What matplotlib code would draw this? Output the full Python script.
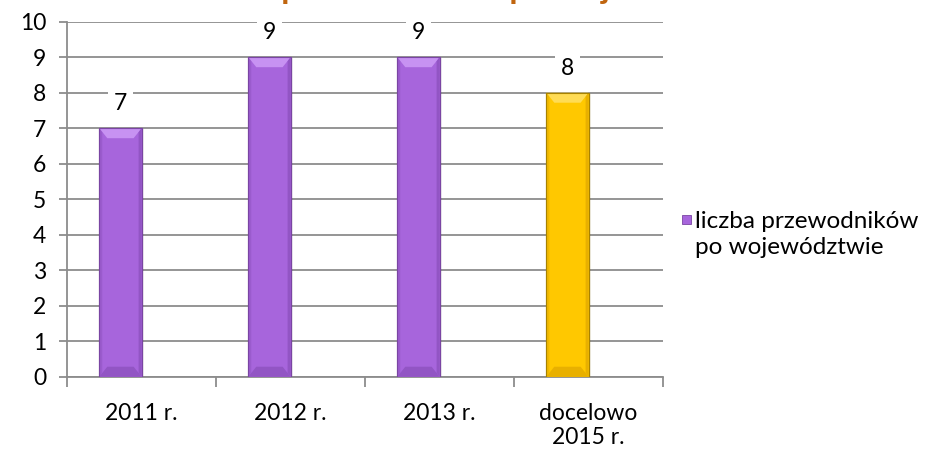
import matplotlib
matplotlib.use('Agg')
import matplotlib.pyplot as plt
from matplotlib.patches import Polygon, Rectangle
import numpy as np

categories = ['2011 r.', '2012 r.', '2013 r.', 'docelowo\n2015 r.']
values = [7, 9, 9, 8]
face_colors = ['#A765DC', '#A765DC', '#A765DC', '#FFC800']
light_colors = ['#C792F2', '#C792F2', '#C792F2', '#FFDC55']
dark_colors = ['#9255C4', '#9255C4', '#9255C4', '#E8B000']
edge_colors = ['#7A45A3', '#7A45A3', '#7A45A3', '#A88200']
series_name = 'liczba przewodników\npo województwie'
title = 'Liczba przewodników po województwie'

plt.rcParams['font.family'] = ['Lato', 'DejaVu Sans']
grid_gray = '#8C8C8C'
fs = 16.5

fig = plt.figure(figsize=(9.25, 4.53), dpi=100)
ax = fig.add_axes([0.0724, 0.1684, 0.6443, 0.7837])

n = len(values)
x = np.arange(n)
width = 0.284
offset = -0.141
ax.set_xlim(-0.5, n - 0.5)
ax.set_ylim(0, 10)

# pixel -> data scale, used for the bevel edges
ax_w = 0.6443 * 925
ax_h = 0.7837 * 453
px_x = n / ax_w
px_y = 10 / ax_h

for i, v in enumerate(values):
    x0 = x[i] + offset - width / 2
    # soft shadow
    for k, a in [(4, 0.05), (3, 0.07), (2, 0.09)]:
        ax.add_patch(Rectangle((x0 + k * px_x * 0.5, -k * px_y * 0.3), width, v,
                               facecolor='black', alpha=a, edgecolor='none', zorder=2))
ax.bar(x + offset, values, width, color=face_colors, edgecolor=edge_colors,
       linewidth=0.8, zorder=3)

for i, v in enumerate(values):
    x0 = x[i] + offset - width / 2
    x1 = x0 + width
    bx = 8 * px_x
    by = 10 * px_y
    sx = 3 * px_x
    top = Polygon([(x0, v), (x1, v), (x1 - bx, v - by), (x0 + bx, v - by)],
                  closed=True, facecolor=light_colors[i], edgecolor='none', zorder=4)
    bottom = Polygon([(x0, 0), (x1, 0), (x1 - bx, by), (x0 + bx, by)],
                     closed=True, facecolor=dark_colors[i], edgecolor='none', zorder=4)
    right = Polygon([(x1, 0), (x1 - sx, by * 0.4), (x1 - sx, v - by * 0.4), (x1, v)],
                    closed=True, facecolor=dark_colors[i], edgecolor='none', zorder=4)
    left = Polygon([(x0, 0), (x0 + sx, by * 0.4), (x0 + sx, v - by * 0.4), (x0, v)],
                   closed=True, facecolor=dark_colors[i], edgecolor='none', zorder=4, alpha=0.6)
    for p in (top, bottom, right, left):
        ax.add_patch(p)
    ax.add_patch(Rectangle((x0, 0), width, v, facecolor='none',
                           edgecolor=edge_colors[i], linewidth=0.8, zorder=5))
    ax.annotate(str(v), (x[i] + offset, v), xytext=(0, 17.5), textcoords='offset points',
                ha='center', va='center', fontsize=fs, color='black', zorder=6,
                bbox=dict(boxstyle='square,pad=0.25', facecolor='white', edgecolor='none'))

ax.set_yticks(np.arange(0, 11, 1))
ax.yaxis.grid(True, color=grid_gray, linewidth=1.3, zorder=0)
ax.set_axisbelow(True)
ax.tick_params(axis='y', length=6, width=1.3, color=grid_gray, labelsize=fs, pad=9)

ax.set_xticks(np.arange(-0.5, n, 1))
ax.set_xticklabels([])
ax.set_xticks(x, minor=True)
ax.set_xticklabels(categories, minor=True, fontsize=fs, linespacing=1.15)
ax.tick_params(axis='x', which='major', length=7, width=1.3, color=grid_gray)
ax.tick_params(axis='x', which='minor', length=0, pad=19)

for s in ['top', 'right']:
    ax.spines[s].set_visible(False)
for s in ['left', 'bottom']:
    ax.spines[s].set_color(grid_gray)
    ax.spines[s].set_linewidth(1.3)

# series key on the right
fig.add_artist(Rectangle((682 / 925, 1 - 224 / 453), 9 / 925, 9 / 453,
                         transform=fig.transFigure, facecolor=face_colors[0],
                         edgecolor=edge_colors[0], linewidth=0.6))
fig.text(695 / 925, 1 - 211 / 453, series_name, ha='left', va='top',
         fontsize=17.5, linespacing=1.3, transform=fig.transFigure)

fig.text(0.515, 1 + 1 / 453, title, ha='center', va='baseline', fontsize=24,
         fontweight='bold', color='#C0650F')

fig.savefig('out.png', dpi=100)
